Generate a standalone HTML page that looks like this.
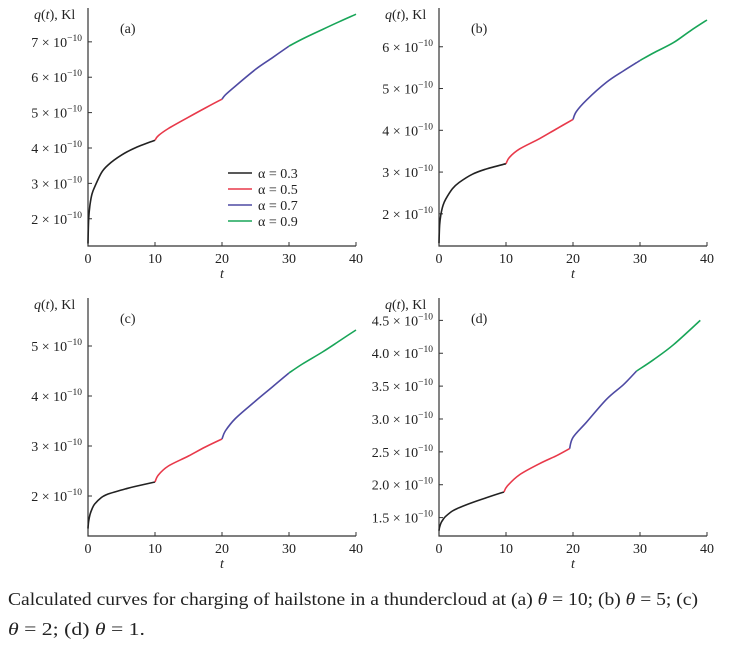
<!DOCTYPE html>
<html><head><meta charset="utf-8">
<style>
html,body{margin:0;padding:0;background:#fff;}
svg{display:block;font-family:"Liberation Serif",serif;}
</style></head>
<body>
<svg id="fig" width="734" height="652" viewBox="0 0 734 652" xmlns="http://www.w3.org/2000/svg">
<text x="8" y="605" font-size="18" textLength="690" lengthAdjust="spacingAndGlyphs" fill="#222">Calculated curves for charging of hailstone in a thundercloud at (a) <tspan font-style="italic">θ</tspan> = 10; (b) <tspan font-style="italic">θ</tspan> = 5; (c)</text>
<text x="8" y="635" font-size="18" textLength="137" lengthAdjust="spacingAndGlyphs" fill="#222"><tspan font-style="italic">θ</tspan> = 2; (d) <tspan font-style="italic">θ</tspan> = 1.</text>
</svg>
<script>
const colors = ["#222222", "#e8394a", "#4e4aa3", "#18a558"];
const alphaLabels = ["α = 0.3", "α = 0.5", "α = 0.7", "α = 0.9"];
const xTicks = [0, 10, 20, 30, 40];

// panel (a)
const aT = [[0,0.1,0.3,0.6,1,2,3,5,7,10],[10,10.5,12,15,17.5,20],[20,20.5,22,25,27.5,30],[30,32,35,37.5,40]];
const aQ = [[1.3,2.0,2.4,2.7,2.9,3.3,3.52,3.8,4.0,4.22],[4.22,4.35,4.55,4.87,5.13,5.38],[5.38,5.5,5.75,6.22,6.55,6.88],[6.88,7.08,7.35,7.57,7.78]];
const aTicks = [2,3,4,5,6,7];
// panel (b)
const bT = aT;
const bQ = [[1.3,1.75,2.0,2.2,2.35,2.6,2.75,2.95,3.07,3.2],[3.2,3.35,3.55,3.8,4.03,4.26],[4.26,4.45,4.72,5.15,5.42,5.67],[5.67,5.85,6.1,6.38,6.64]];
const bTicks = [2,3,4,5,6];
// panel (c)
const cT = aT;
const cQ = [[1.35,1.5,1.63,1.74,1.84,1.97,2.04,2.12,2.19,2.28],[2.28,2.42,2.6,2.8,2.98,3.14],[3.14,3.3,3.55,3.9,4.18,4.46],[4.46,4.64,4.88,5.1,5.32]];
const cTicks = [2,3,4,5];
// panel (d)
const dT = [[0,0.1,0.3,0.6,1,2,3,5,7,9.7],[9.7,10.2,12,15,17.5,19.5],[19.5,20,22,25,27.5,29.5],[29.5,32,35,39]];
const dQ = [[1.3,1.36,1.42,1.47,1.52,1.6,1.65,1.73,1.8,1.89],[1.89,1.98,2.15,2.32,2.44,2.55],[2.55,2.72,2.95,3.3,3.52,3.73],[3.73,3.9,4.13,4.5]];
const dTicks = ["1.5","2.0","2.5","3.0","3.5","4.0","4.5"];

const NS = "http://www.w3.org/2000/svg";
const svg = document.getElementById("fig");
function mk(tag, attrs, parent) {
  const e = document.createElementNS(NS, tag);
  for (const k in attrs) e.setAttribute(k, attrs[k]);
  (parent || svg).appendChild(e);
  return e;
}
function smooth(pts) {
  let d = "M" + pts[0][0].toFixed(1) + "," + pts[0][1].toFixed(1);
  for (let i = 0; i < pts.length - 1; i++) {
    const p0 = pts[Math.max(0, i - 1)], p1 = pts[i], p2 = pts[i + 1], p3 = pts[Math.min(pts.length - 1, i + 2)];
    const c1x = p1[0] + (p2[0] - p0[0]) / 6, c1y = p1[1] + (p2[1] - p0[1]) / 6;
    const c2x = p2[0] - (p3[0] - p1[0]) / 6, c2y = p2[1] - (p3[1] - p1[1]) / 6;
    d += "C" + c1x.toFixed(1) + "," + c1y.toFixed(1) + " " + c2x.toFixed(1) + "," + c2y.toFixed(1) + " " + p2[0].toFixed(1) + "," + p2[1].toFixed(1);
  }
  return d;
}

const panels = [
  {id:"a", T:aT, Q:aQ, ticks:aTicks, x0:88, x1:356, y0:10, y1:246, yMin:1.23, yMax:7.9, legend:true},
  {id:"b", T:bT, Q:bQ, ticks:bTicks, x0:439, x1:707, y0:10, y1:246, yMin:1.23, yMax:6.88},
  {id:"c", T:cT, Q:cQ, ticks:cTicks, x0:88, x1:356, y0:300, y1:536, yMin:1.2, yMax:5.92},
  {id:"d", T:dT, Q:dQ, ticks:dTicks, x0:439, x1:707, y0:300, y1:536, yMin:1.22, yMax:4.81}
];

panels.forEach(p => {
  const g = mk("g", {});
  
  
  const xs = t => p.x0 + (t / 40) * (p.x1 - p.x0);
  const ys = v => p.y1 - (v - p.yMin) / (p.yMax - p.yMin) * (p.y1 - p.y0);
  const ax = mk("path", {d:`M${p.x0},${p.y0-2}V${p.y1}H${p.x1}`, stroke:"#333", "stroke-width":1.2, fill:"none"}, g);
  
  
  xTicks.forEach(t => {
    const x = xs(t);
    mk("line", {x1:x, x2:x, y1:p.y1, y2:p.y1-4, stroke:"#333"}, g);
    const lb = mk("text", {x:x, y:p.y1+17, "text-anchor":"middle", "font-size":14, fill:"#222"}, g);
    lb.textContent = t;
    
    
  });
  const xt = mk("text", {x:(p.x0+p.x1)/2, y:p.y1+32, "text-anchor":"middle", "font-size":14, "font-style":"italic", fill:"#222"}, g);
  xt.textContent = "t";
  
  
  p.ticks.forEach(v => {
    const y = ys(parseFloat(v));
    mk("line", {x1:p.x0, x2:p.x0+4, y1:y, y2:y, stroke:"#333"}, g);
    const lb = mk("text", {x:p.x0-6, y:y+5, "text-anchor":"end", "font-size":14, fill:"#222"}, g);
    
    
    lb.textContent = v + " × 10";
    const sup = mk("tspan", {dy:-6, "font-size":9.5}, lb);
    sup.textContent = "−10";
  });
  const yt = mk("text", {x:p.x0-54, y:p.y0+9, "font-size":14, fill:"#222"}, g);
  
  
  yt.innerHTML = '<tspan font-style="italic">q</tspan>(<tspan font-style="italic">t</tspan>), Kl';
  const pl = mk("text", {x:p.x0+32, y:p.y0+23, "font-size":14, fill:"#222"}, g);
  pl.textContent = "(" + p.id + ")";
  
  
  p.T.forEach((ts, si) => {
    const pts = ts.map((t, i) => [xs(t), ys(p.Q[si][i])]);
    const ln = mk("path", {d:smooth(pts), stroke:colors[si], "stroke-width":1.6, fill:"none", "stroke-linejoin":"round"}, g);
    
    
  });
  if (p.legend) {
    alphaLabels.forEach((lab, i) => {
      const y = 173 + i * 16;
      const le = mk("g", {}, g);
      
      
      mk("line", {x1:228, x2:252, y1:y, y2:y, stroke:colors[i], "stroke-width":1.6}, le);
      const tx = mk("text", {x:258, y:y+5, "font-size":14, fill:"#222"}, le);
      tx.textContent = lab;
    });
  }
});
</script>
</body></html>
